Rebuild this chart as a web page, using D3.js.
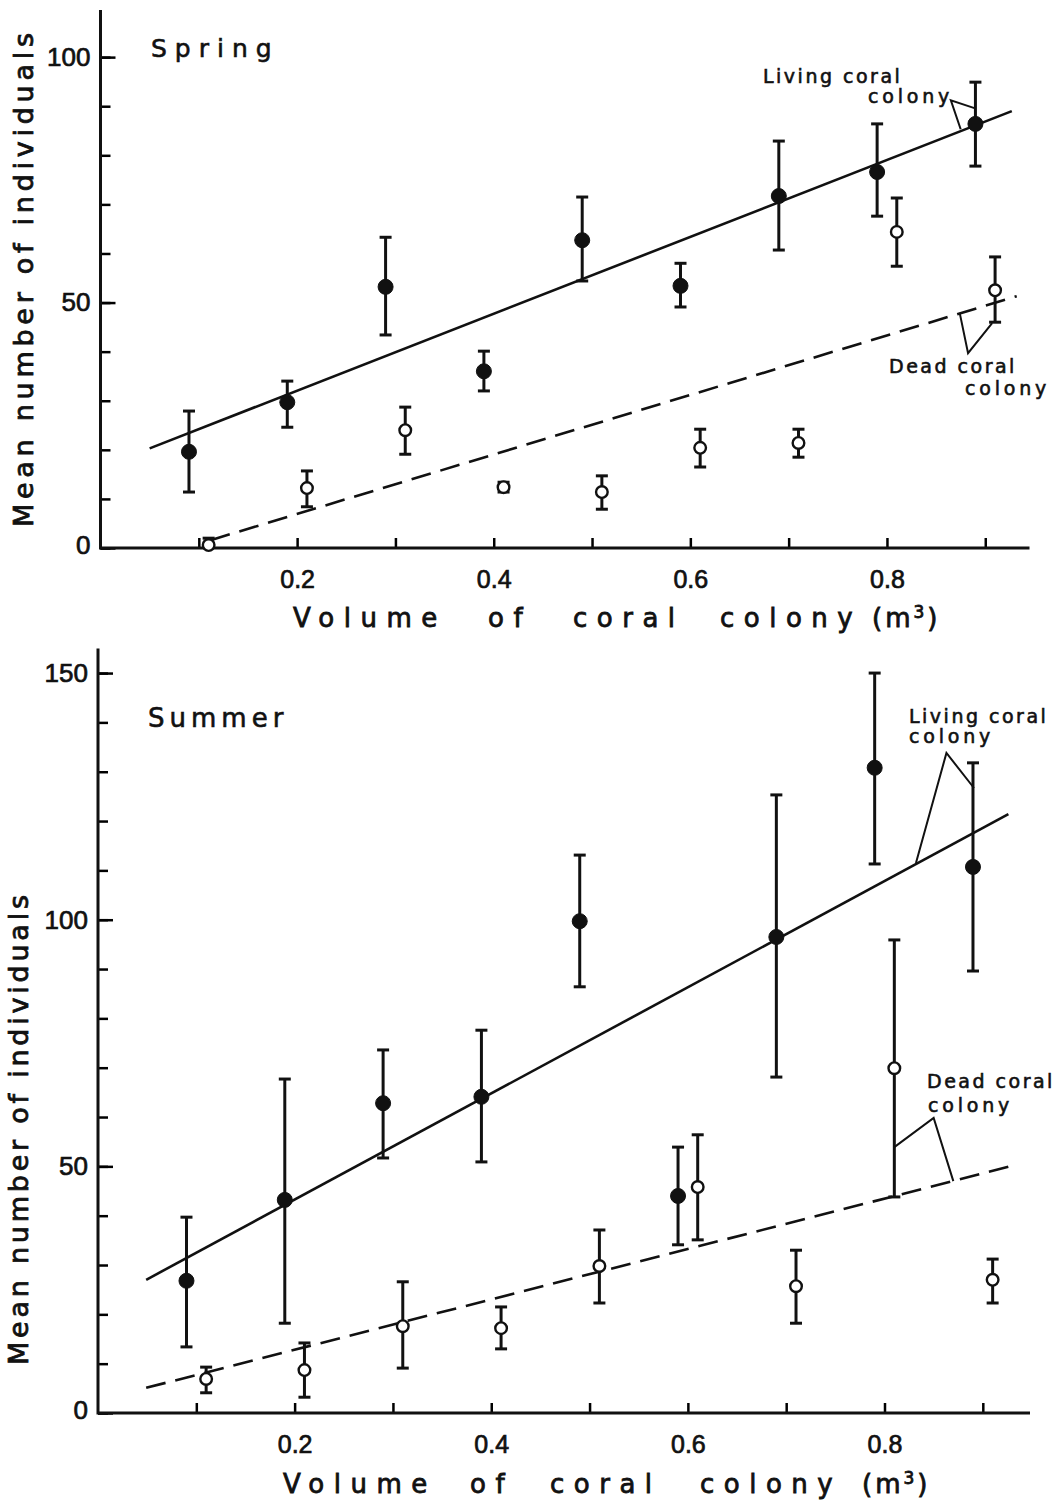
<!DOCTYPE html>
<html>
<head>
<meta charset="utf-8">
<script src="https://cdn.jsdelivr.net/npm/d3@7"></script>
<style>
  body { margin: 0; background: #fff; }
  text { fill: #111; stroke: #111; stroke-width: 0.6px; font-family: "DejaVu Sans", sans-serif; }
  .num { font-family: "Liberation Sans", sans-serif; stroke-width: 0.7px; }
</style>
</head>
<body>
<div id="chart"></div>
<script>
// colony volumes (m3) - living points sit just left of each tenth, dead ones just right
var livingVolume = [0.09, 0.19, 0.29, 0.39, 0.49, 0.59, 0.69, 0.79, 0.89];
var deadVolume = [0.11, 0.21, 0.31, 0.41, 0.51, 0.61, 0.71, 0.81, 0.91];

// Spring
var springLivingMean = [19.6, 29.7, 53.2, 36.0, 62.7, 53.4, 71.7, 76.6, 86.4];
var springLivingHi   = [27.9, 34.0, 63.3, 40.1, 71.5, 58.0, 82.9, 86.4, 94.9];
var springLivingLo   = [11.4, 24.6, 43.4, 32.0, 54.4, 49.1, 60.7, 67.6, 77.8];
var springDeadMean   = [0.6, 12.2, 24.0, 12.4, 11.4, 20.4, 21.4, 64.4, 52.5];
var springDeadHi     = [2.0, 15.7, 28.7, 13.4, 14.7, 24.2, 24.2, 71.3, 59.3];
var springDeadLo     = [0.0, 8.4, 19.1, 11.4, 7.9, 16.5, 18.5, 57.4, 46.0];

// Summer
var summerLivingMean = [26.8, 43.2, 62.8, 64.1, 99.7, 44.0, 96.5, 130.8, 110.7];
var summerLivingHi   = [39.7, 67.7, 73.6, 77.6, 113.1, 53.9, 125.3, 150.0, 131.8];
var summerLivingLo   = [13.4, 18.2, 51.7, 50.9, 86.4, 34.1, 68.1, 111.3, 89.6];
var summerDeadMean   = [6.9, 8.7, 17.6, 17.2, 29.8, 45.8, 25.7, 69.9, 27.0];
var summerDeadHi     = [9.3, 14.2, 26.6, 21.5, 37.1, 56.4, 33.0, 95.9, 31.2];
var summerDeadLo     = [4.1, 3.2, 9.1, 13.0, 22.3, 35.1, 18.2, 43.8, 22.3];

// regression lines, end points [volume, mean]
var springLivingLine = [[0.05, 20.3], [0.927, 89.0]];
var springDeadLine   = [[0.112, 1.6], [0.932, 51.3]];
var summerLivingLine = [[0.049, 27.0], [0.926, 121.4]];
var summerDeadLine   = [[0.049, 5.1], [0.926, 49.9]];

// leader lines for the line labels [volume, mean]
var springLivingLeader = [[0.875, 85.3], [0.865, 91.2], [0.889, 89.6]];
var springDeadLeader   = [[0.874, 47.9], [0.8825, 39.7], [0.907, 45.8]];
var summerLivingLeader = [[0.832, 111.5], [0.863, 133.8], [0.891, 126.7]];
var summerDeadLeader   = [[0.81, 53.9], [0.85, 59.8], [0.87, 47.0]];

var xTicks = [0.1, 0.2, 0.3, 0.4, 0.5, 0.6, 0.7, 0.8, 0.9];
var xTickLabels = [0.2, 0.4, 0.6, 0.8];
var springYTicks = [0, 50, 100];
var summerYTicks = [0, 50, 100, 150];

var svg = d3.select("#chart").append("svg")
  .attr("width", 1064)
  .attr("height", 1501);

function zip(xs, m, hi, lo) {
  return xs.map(function (x, i) { return { x: x, m: m[i], hi: hi[i], lo: lo[i] }; });
}

function drawPanel(p) {
  var g = svg.append("g");
  var x = p.x, y = p.y;

  // minor y ticks every 10
  var minor = d3.range(0, p.yMax + 0.1, 10);
  g.append("g")
    .attr("transform", "translate(" + x.range()[0] + ",0)")
    .call(d3.axisLeft(y).tickValues(minor).tickSize(-10).tickFormat(""))
    .call(function (a) { a.select(".domain").remove(); a.selectAll("line").attr("stroke-width", 2.5); });

  // major y ticks with labels
  var yAxis = g.append("g")
    .attr("transform", "translate(" + x.range()[0] + ",0)")
    .call(d3.axisLeft(y).tickValues(p.yTicks).tickSize(-15).tickPadding(10).tickFormat(d3.format("d")));
  yAxis.select(".domain").remove();
  yAxis.selectAll("line").attr("stroke-width", 2.5);
  yAxis.selectAll("text").attr("class", "num").attr("font-size", 26).attr("fill", "#111");
  yAxis.selectAll(".tick text").filter(function (d) { return d === 0; }).attr("dy", "0.2em");

  // x ticks pointing up
  var xAxis = g.append("g")
    .attr("transform", "translate(0," + y(0) + ")")
    .call(d3.axisBottom(x).tickValues(xTicks).tickSize(-10).tickPadding(22)
      .tickFormat(function (d) { return xTickLabels.indexOf(d) >= 0 ? d3.format(".1f")(d) : ""; }));
  xAxis.select(".domain").remove();
  xAxis.selectAll("line").attr("stroke-width", 2.5);
  xAxis.selectAll("text").attr("class", "num").attr("font-size", 25).attr("fill", "#111");

  // axis lines
  g.append("line")
    .attr("x1", x.range()[0]).attr("x2", x.range()[0])
    .attr("y1", y.range()[1]).attr("y2", y(0) + 1.5)
    .attr("stroke", "#111").attr("stroke-width", 3);
  g.append("line")
    .attr("x1", x.range()[0]).attr("x2", x.range()[1])
    .attr("y1", y(0)).attr("y2", y(0))
    .attr("stroke", "#111").attr("stroke-width", 3);

  // regression lines
  var line = d3.line().x(function (d) { return x(d[0]); }).y(function (d) { return y(d[1]); });
  g.append("path").attr("d", line(p.livingLine))
    .attr("fill", "none").attr("stroke", "#111").attr("stroke-width", 2.6);
  g.append("path").attr("d", line(p.deadLine))
    .attr("fill", "none").attr("stroke", "#111").attr("stroke-width", 2.6)
    .attr("stroke-dasharray", "20,10");

  // leaders
  [p.livingLeader, p.deadLeader].forEach(function (l) {
    g.append("path").attr("d", line(l))
      .attr("fill", "none").attr("stroke", "#111").attr("stroke-width", 2);
  });

  // error bars + points
  function drawSeries(data, filled) {
    var s = g.append("g");
    s.selectAll("line.bar").data(data).enter().append("line")
      .attr("x1", function (d) { return x(d.x); }).attr("x2", function (d) { return x(d.x); })
      .attr("y1", function (d) { return y(d.hi); }).attr("y2", function (d) { return y(d.lo); })
      .attr("stroke", "#111").attr("stroke-width", 3);
    ["hi", "lo"].forEach(function (k) {
      s.selectAll("line.cap" + k).data(data.filter(function (d) { return d[k] > 0; })).enter().append("line")
        .attr("x1", function (d) { return x(d.x) - 6; }).attr("x2", function (d) { return x(d.x) + 6; })
        .attr("y1", function (d) { return y(d[k]); }).attr("y2", function (d) { return y(d[k]); })
        .attr("stroke", "#111").attr("stroke-width", 3);
    });
    s.selectAll("circle").data(data).enter().append("circle")
      .attr("cx", function (d) { return x(d.x); })
      .attr("cy", function (d) { return y(d.m); })
      .attr("r", filled ? 7.5 : 5.8)
      .attr("fill", filled ? "#111" : "#fff")
      .attr("stroke", "#111").attr("stroke-width", filled ? 1 : 2.4);
  }
  drawSeries(p.dead, false);
  drawSeries(p.living, true);

  // labels
  g.append("text").attr("x", p.title[1]).attr("y", p.title[2])
    .attr("font-size", p.title[3]).attr("letter-spacing", p.title[4]).text(p.title[0]);

  p.notes.forEach(function (n) {
    g.append("text").attr("x", n[1]).attr("y", n[2])
      .attr("font-size", 19).attr("letter-spacing", n[3]).text(n[0]);
  });

  g.append("text")
    .attr("transform", "translate(" + p.yTitle[0] + "," + p.yTitle[1] + ") rotate(-90)")
    .attr("text-anchor", "middle")
    .attr("font-size", 27)
    .style("stroke-width", "0.8px")
    .attr("textLength", p.yTitle[2]).attr("lengthAdjust", "spacing")
    .text("Mean number of individuals");

  var xt = g.append("text").attr("y", p.xTitleY).attr("font-size", 26).attr("letter-spacing", 9.5)
    .style("stroke-width", "0.8px");
  ["Volume", "of", "coral", "colony"].forEach(function (w, i) {
    xt.append("tspan").attr("x", p.xTitleX[i]).text(w);
  });
  // unit, set tighter
  var unit = xt.append("tspan").attr("x", p.xTitleX[4]).attr("letter-spacing", 3).text("(m");
  unit.append("tspan").attr("font-size", 17).attr("dy", -9).text("3");
  unit.append("tspan").attr("dy", 9).text(")");
}

// Spring panel
drawPanel({
  x: d3.scaleLinear().domain([0, 0.945]).range([100.5, 1029.5]),
  y: d3.scaleLinear().domain([0, 109.6]).range([548, 10]),
  yMax: 100,
  yTicks: springYTicks,
  living: zip(livingVolume, springLivingMean, springLivingHi, springLivingLo),
  dead: zip(deadVolume, springDeadMean, springDeadHi, springDeadLo),
  livingLine: springLivingLine,
  deadLine: springDeadLine,
  livingLeader: springLivingLeader,
  deadLeader: springDeadLeader,
  title: ["Spring", 151, 57, 25, 8],
  notes: [["Living coral", 763, 83, 2.5], ["colony", 868, 103, 3.8],
          ["Dead coral", 889, 373, 2.5], ["colony", 965, 395, 3.8]],
  yTitle: [33, 280, 494],
  xTitleY: 627,
  xTitleX: [293, 488, 573, 720, 872]
});

// Summer panel
drawPanel({
  x: d3.scaleLinear().domain([0, 0.948]).range([98, 1030]),
  y: d3.scaleLinear().domain([0, 155]).range([1413, 648.4]),
  yMax: 150,
  yTicks: summerYTicks,
  living: zip(livingVolume, summerLivingMean, summerLivingHi, summerLivingLo),
  dead: zip(deadVolume, summerDeadMean, summerDeadHi, summerDeadLo),
  livingLine: summerLivingLine,
  deadLine: summerDeadLine,
  livingLeader: summerLivingLeader,
  deadLeader: summerDeadLeader,
  title: ["Summer", 148, 727, 26, 5],
  notes: [["Living coral", 909, 723, 2.5], ["colony", 909, 743, 3.8],
          ["Dead coral", 927, 1088, 2.5], ["colony", 928, 1112, 3.8]],
  yTitle: [28, 1130, 470],
  xTitleY: 1493,
  xTitleX: [283, 470, 550, 700, 862]
});
</script>
</body>
</html>
